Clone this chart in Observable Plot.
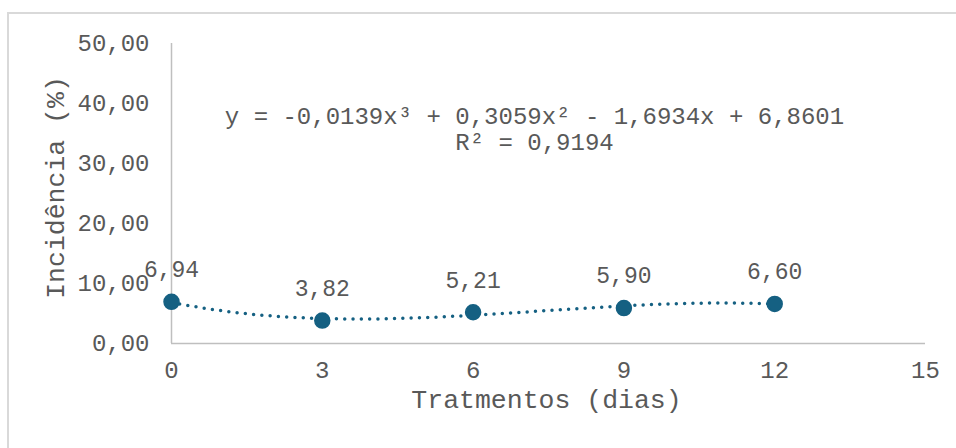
<!DOCTYPE html>
<html>
<head>
<meta charset="utf-8">
<script src="https://cdn.jsdelivr.net/npm/d3@7"></script>
<script src="https://cdn.jsdelivr.net/npm/@observablehq/plot@0.6"></script>
<style>
  html, body { margin: 0; padding: 0; background: #fff; overflow: hidden; width: 956px; height: 448px; }
  #frame { position: absolute; left: 7px; top: 12px; width: 1000px; height: 1000px; border: 2px solid #d9d9d9; box-sizing: border-box; }
  #chart { position: absolute; left: 0; top: 0; }
</style>
</head>
<body>
<div id="frame"></div>
<div id="chart"></div>
<script>
// Data
const days = [0, 3, 6, 9, 12];
const incidence = [6.94, 3.82, 5.21, 5.90, 6.60];
const xTicks = [0, 3, 6, 9, 12, 15];
const yTicks = [0, 10, 20, 30, 40, 50];
// Trendline coefficients (as shown: y = a x^3 + b x^2 + c x + d)
const trendCoefs = [-0.0139, 0.3059, -1.6934, 6.8601];
const equationLines = ["y = -0,0139x³ + 0,3059x² - 1,6934x + 6,8601", "R² = 0,9194"];
const xTitle = "Tratmentos (dias)";
const yTitle = "Incidência (%)";

const points = days.map((d, i) => ({x: d, y: incidence[i]}));
const trend = d3.range(0, 12.0001, 0.1).map(x => ({
  x, y: trendCoefs[0]*x**3 + trendCoefs[1]*x**2 + trendCoefs[2]*x + trendCoefs[3]
}));
const fmt = v => v.toFixed(2).replace(".", ",");
const color = "#156082";
const textColor = "#595959";
const font = "'Liberation Mono', 'Courier New', monospace";

const chart = Plot.plot({
  width: 956,
  height: 448,
  marginLeft: 171,
  marginRight: 31,
  marginTop: 43,
  marginBottom: 105,
  style: {fontFamily: font, fontSize: "24px", color: textColor, background: "transparent"},
  x: {domain: [0, 15], ticks: xTicks, label: null},
  y: {domain: [0, 50], ticks: yTicks, label: null},
  marks: [
    Plot.ruleY([0], {stroke: "#bfbfbf", strokeWidth: 1.5}),
    Plot.ruleX([0], {stroke: "#bfbfbf", strokeWidth: 1.5}),
    Plot.axisX({ticks: xTicks, tickSize: 0, tickPadding: 17, fontSize: 24, fill: textColor, label: null}),
    Plot.axisY({ticks: yTicks, tickSize: 0, tickPadding: 22, tickFormat: fmt, fontSize: 24, fill: textColor, label: null}),
    Plot.line(trend, {x: "x", y: "y", stroke: color, strokeWidth: 3.5, strokeDasharray: "0 8.3", strokeLinecap: "round", curve: "linear"}),
    Plot.dot(points, {x: "x", y: "y", r: 7.5, fill: color, stroke: color}),
    Plot.text(points, {x: "x", y: "y", text: d => fmt(d.y), dy: -32, fontSize: 23, fill: textColor}),
    Plot.text([equationLines.join("\n")], {frameAnchor: "top", dx: -14, dy: 62, fontSize: 24, fill: textColor, lineHeight: 1.08, text: d => d}),
    Plot.text([xTitle], {frameAnchor: "bottom", dy: 64, dx: -2, fontSize: 26.5, fill: textColor, text: d => d}),
    Plot.text([yTitle], {frameAnchor: "left", textAnchor: "middle", dx: -116, dy: -6, rotate: -90, fontSize: 26.5, fill: textColor, text: d => d})
  ]
});
document.getElementById("chart").appendChild(chart);
</script>
</body>
</html>
